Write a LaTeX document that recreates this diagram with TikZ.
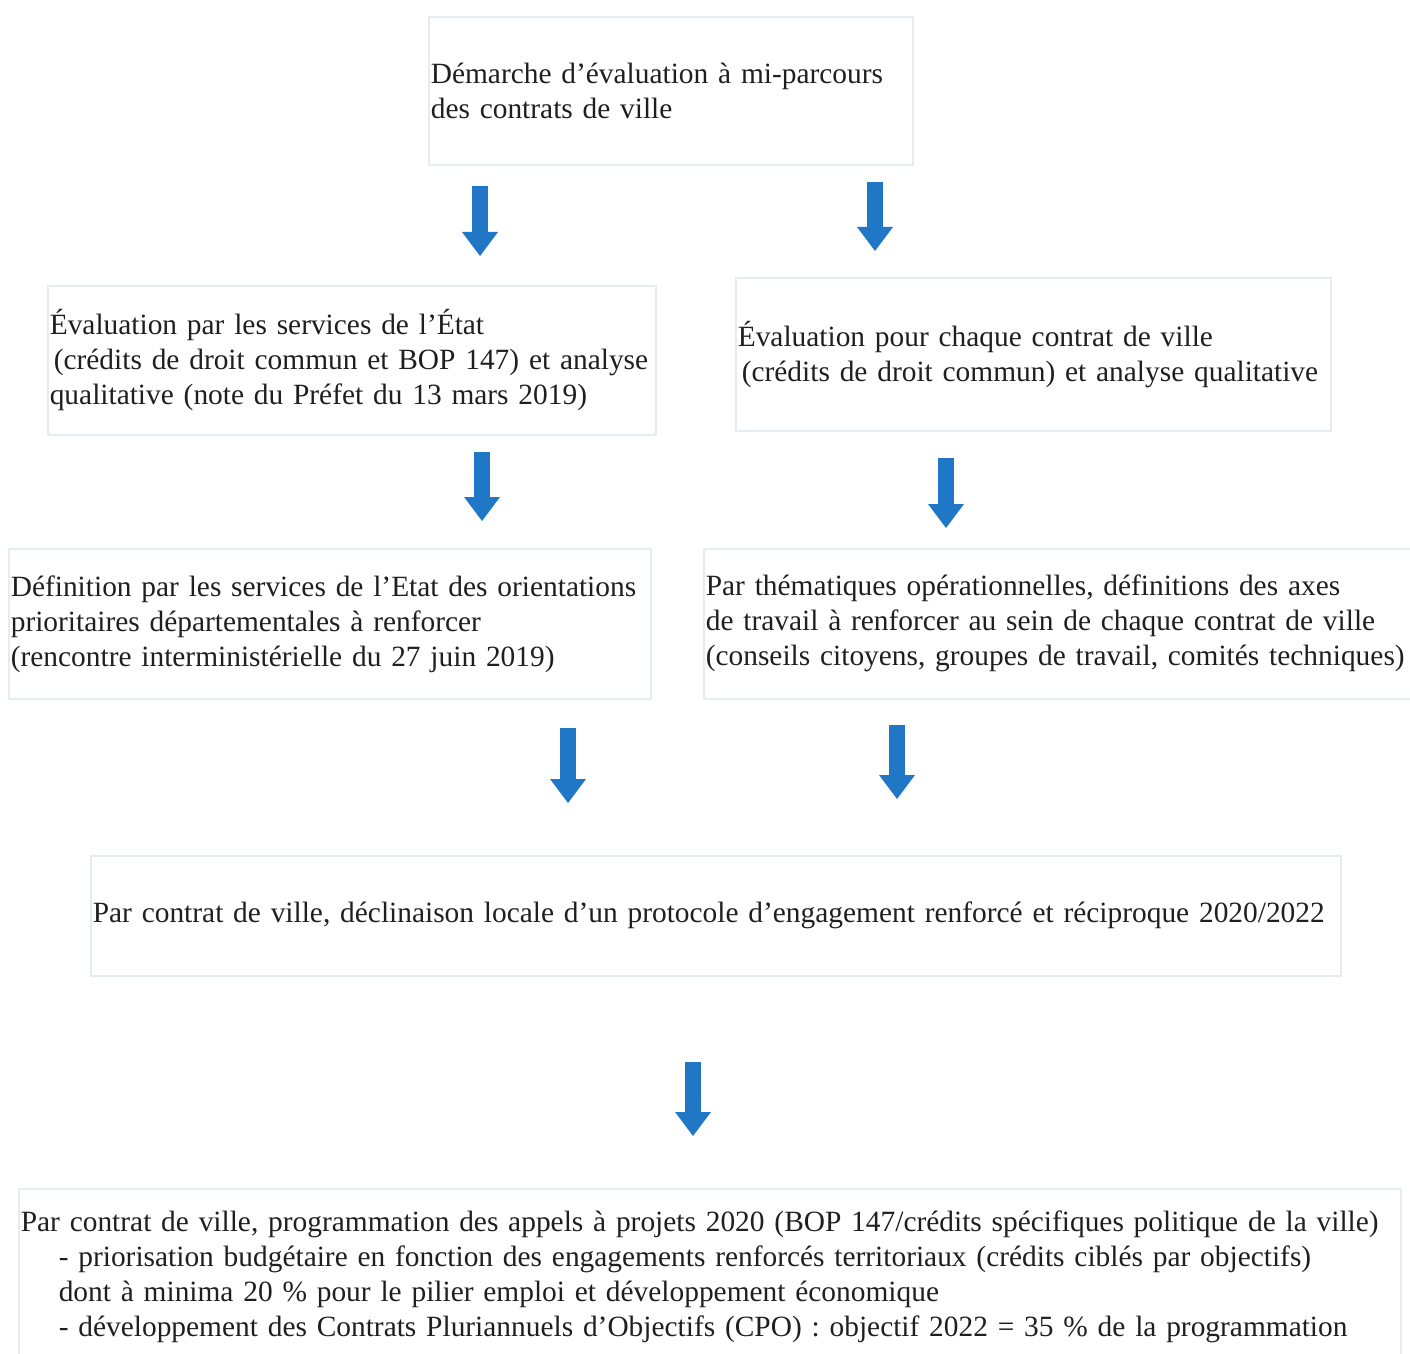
\documentclass[tikz,border=0pt]{standalone}
\usepackage{fontspec}
\setmainfont{Liberation Serif}
\usetikzlibrary{arrows.meta,positioning}

\definecolor{arrowblue}{RGB}{31,119,198}
\definecolor{boxline}{RGB}{230,236,239}

\tikzset{
  stepbox/.style={draw=boxline, line width=0.8pt, anchor=north west, align=left,
    inner xsep=1pt, inner ysep=0pt, text=black!88,
    font=\fontsize{14.7}{17.5}\selectfont},
  flowarrow/.style={arrowblue, line width=8pt,
    -{Triangle[width=18pt,length=12pt,line width=0pt]}}
}

\begin{document}
\begin{tikzpicture}[x=0.5pt,y=-0.5pt]
  \useasboundingbox (0,0) rectangle (1410,1354);

  \node[stepbox, text width=240pt, minimum height=74pt] at (428,16) (demarche)
    {Démarche d’évaluation à mi-parcours\\des contrats de ville};
  \node[stepbox, text width=302pt, minimum height=74.5pt] at (47,285) (evaletat)
    {Évaluation par les services de l’État\\\hspace*{2pt}(crédits de droit commun et BOP 147) et analyse\\qualitative (note du Préfet du 13 mars 2019)};
  \node[stepbox, text width=295.5pt, minimum height=76.5pt] at (735,277) (evalville)
    {Évaluation pour chaque contrat de ville\\\hspace*{2pt}(crédits de droit commun) et analyse qualitative};
  \node[stepbox, text width=319pt, minimum height=75pt] at (8,548) (orient)
    {Définition par les services de l’Etat des orientations\\prioritaires départementales à renforcer\\(rencontre interministérielle du 27 juin 2019)};
  \node[stepbox, text width=352pt, minimum height=75pt] at (703,548) (axes)
    {Par thématiques opérationnelles, définitions des axes\\de travail à renforcer au sein de chaque contrat de ville\\(conseils citoyens, groupes de travail, comités techniques)};
  \node[stepbox, text width=623pt, minimum height=60pt] at (90,855) (protocole)
    {Par contrat de ville, déclinaison locale d’un protocole d’engagement renforcé et réciproque 2020/2022};
  \node[stepbox, text width=689pt, minimum height=88pt] at (18,1188) (program)
    {Par contrat de ville, programmation des appels à projets 2020 (BOP 147/crédits spécifiques politique de la ville)\\
     \hspace*{19pt}- priorisation budgétaire en fonction des engagements renforcés territoriaux (crédits ciblés par objectifs)\\
     \hspace*{19pt}dont à minima 20 \% pour le pilier emploi et développement économique\\
     \hspace*{19pt}- développement des Contrats Pluriannuels d’Objectifs (CPO) : objectif 2022 = 35 \% de la programmation};

  % arrow ends
  \coordinate (a1) at (480,186);  \coordinate (b1) at (480,256);
  \coordinate (a2) at (875,182);  \coordinate (b2) at (875,251);
  \coordinate (a3) at (482,452);  \coordinate (b3) at (482,521);
  \coordinate (a4) at (946,458);  \coordinate (b4) at (946,528);
  \coordinate (a5) at (568,728);  \coordinate (b5) at (568,803);
  \coordinate (a6) at (897,725);  \coordinate (b6) at (897,799);
  \coordinate (a7) at (693,1062); \coordinate (b7) at (693,1136);

  \draw[flowarrow] (a1) -- (b1);
  \draw[flowarrow] (a2) -- (b2);
  \draw[flowarrow] (a3) -- (b3);
  \draw[flowarrow] (a4) -- (b4);
  \draw[flowarrow] (a5) -- (b5);
  \draw[flowarrow] (a6) -- (b6);
  \draw[flowarrow] (a7) -- (b7);
\end{tikzpicture}
\end{document}
